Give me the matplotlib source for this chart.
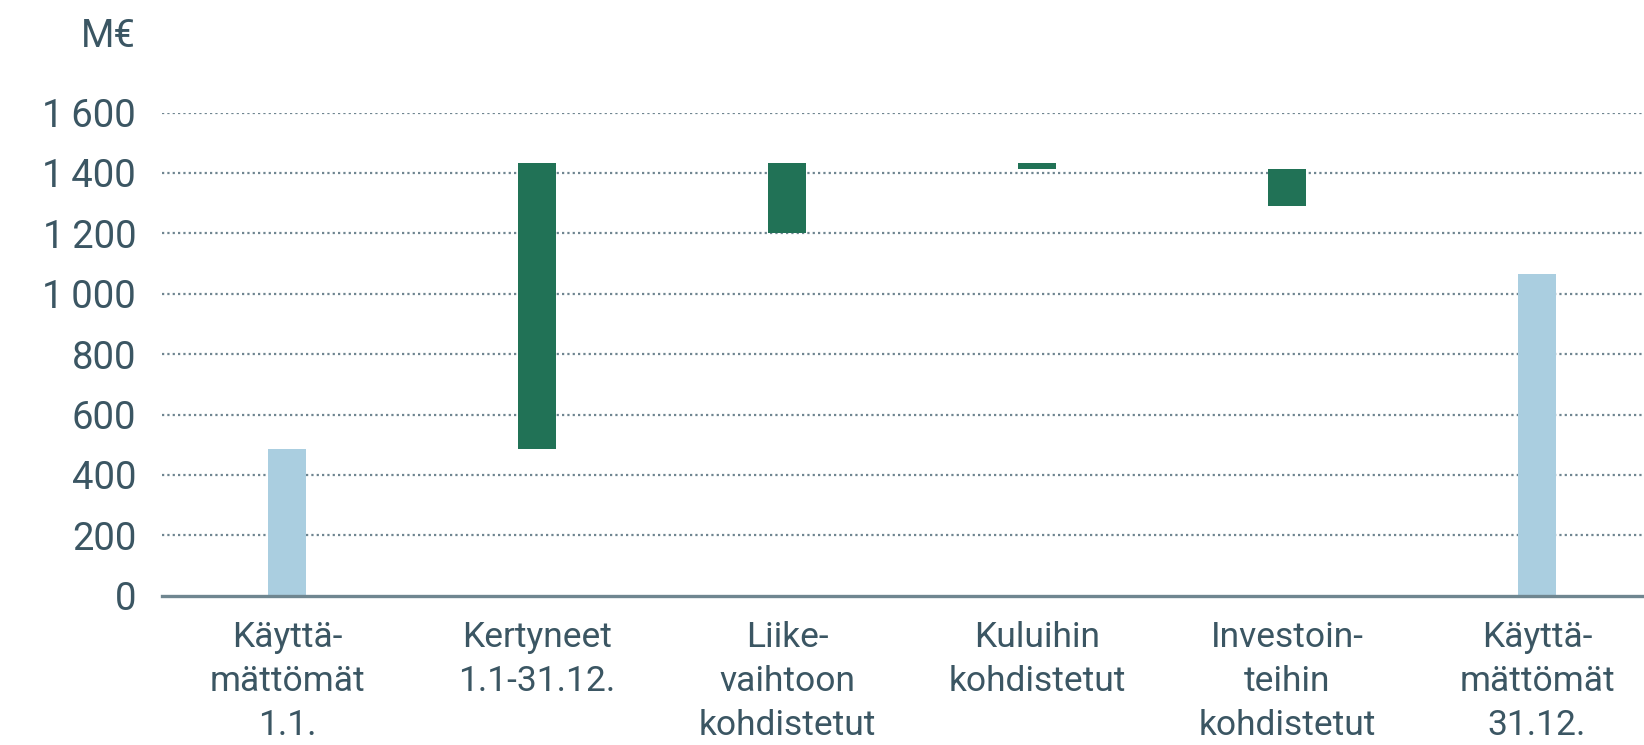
import matplotlib.pyplot as plt
import numpy as np

plt.rcParams['font.family'] = ['Roboto', 'DejaVu Sans']

# waterfall values, M€ (bar start and end)
categories = ["Käyttä-\nmättömät\n1.1.", "Kertyneet\n1.1-31.12.", "Liike-\nvaihtoon\nkohdistetut",
              "Kuluihin\nkohdistetut", "Investoin-\nteihin\nkohdistetut", "Käyttä-\nmättömät\n31.12."]
bar_start = [0, 487, 1433, 1433, 1414, 0]
bar_end = [487, 1433, 1200, 1414, 1292, 1064]
is_total = [True, False, False, False, False, True]

yticks = [0, 200, 400, 600, 800, 1000, 1200, 1400, 1600]

text_col = "#3b5663"
green = "#217256"
blue = "#aacee0"
grid_col = "#6f8590"

fig = plt.figure(figsize=(16.44, 7.45), dpi=100)
ax = fig.add_axes([0.0985, 0.2004, 0.9015, 0.6485])

x = np.arange(len(categories))
lo = np.minimum(bar_start, bar_end)
hi = np.maximum(bar_start, bar_end)
cols = [blue if t else green for t in is_total]
ax.bar(x, hi - lo, bottom=lo, width=0.152, color=cols, zorder=3)

ax.set_xlim(-0.5, 5.428)
ax.set_ylim(0, 1600)
ax.set_yticks(yticks)
ax.set_yticklabels([f"{v:,}".replace(",", "\u2009") for v in yticks])
ax.set_xticks(x)
ax.set_xticklabels(categories, linespacing=1.42)

for v in yticks[1:]:
    ax.axhline(v, color=grid_col, lw=1.6, ls=(0, (1, 1.4)), zorder=1)
ax.axhline(0, color="#6f8690", lw=2.4, zorder=4, clip_on=False)

for s in ax.spines.values():
    s.set_visible(False)
ax.tick_params(axis='y', length=0, pad=18.5, labelsize=27.5, labelcolor=text_col)
ax.tick_params(axis='x', length=0, pad=18, labelsize=25.5, labelcolor=text_col)

fig.text(136 / 1644, 1 - 47 / 745, "M€", ha='right', va='baseline', fontsize=27.5, color=text_col)

fig.savefig("out.png", dpi=100)
